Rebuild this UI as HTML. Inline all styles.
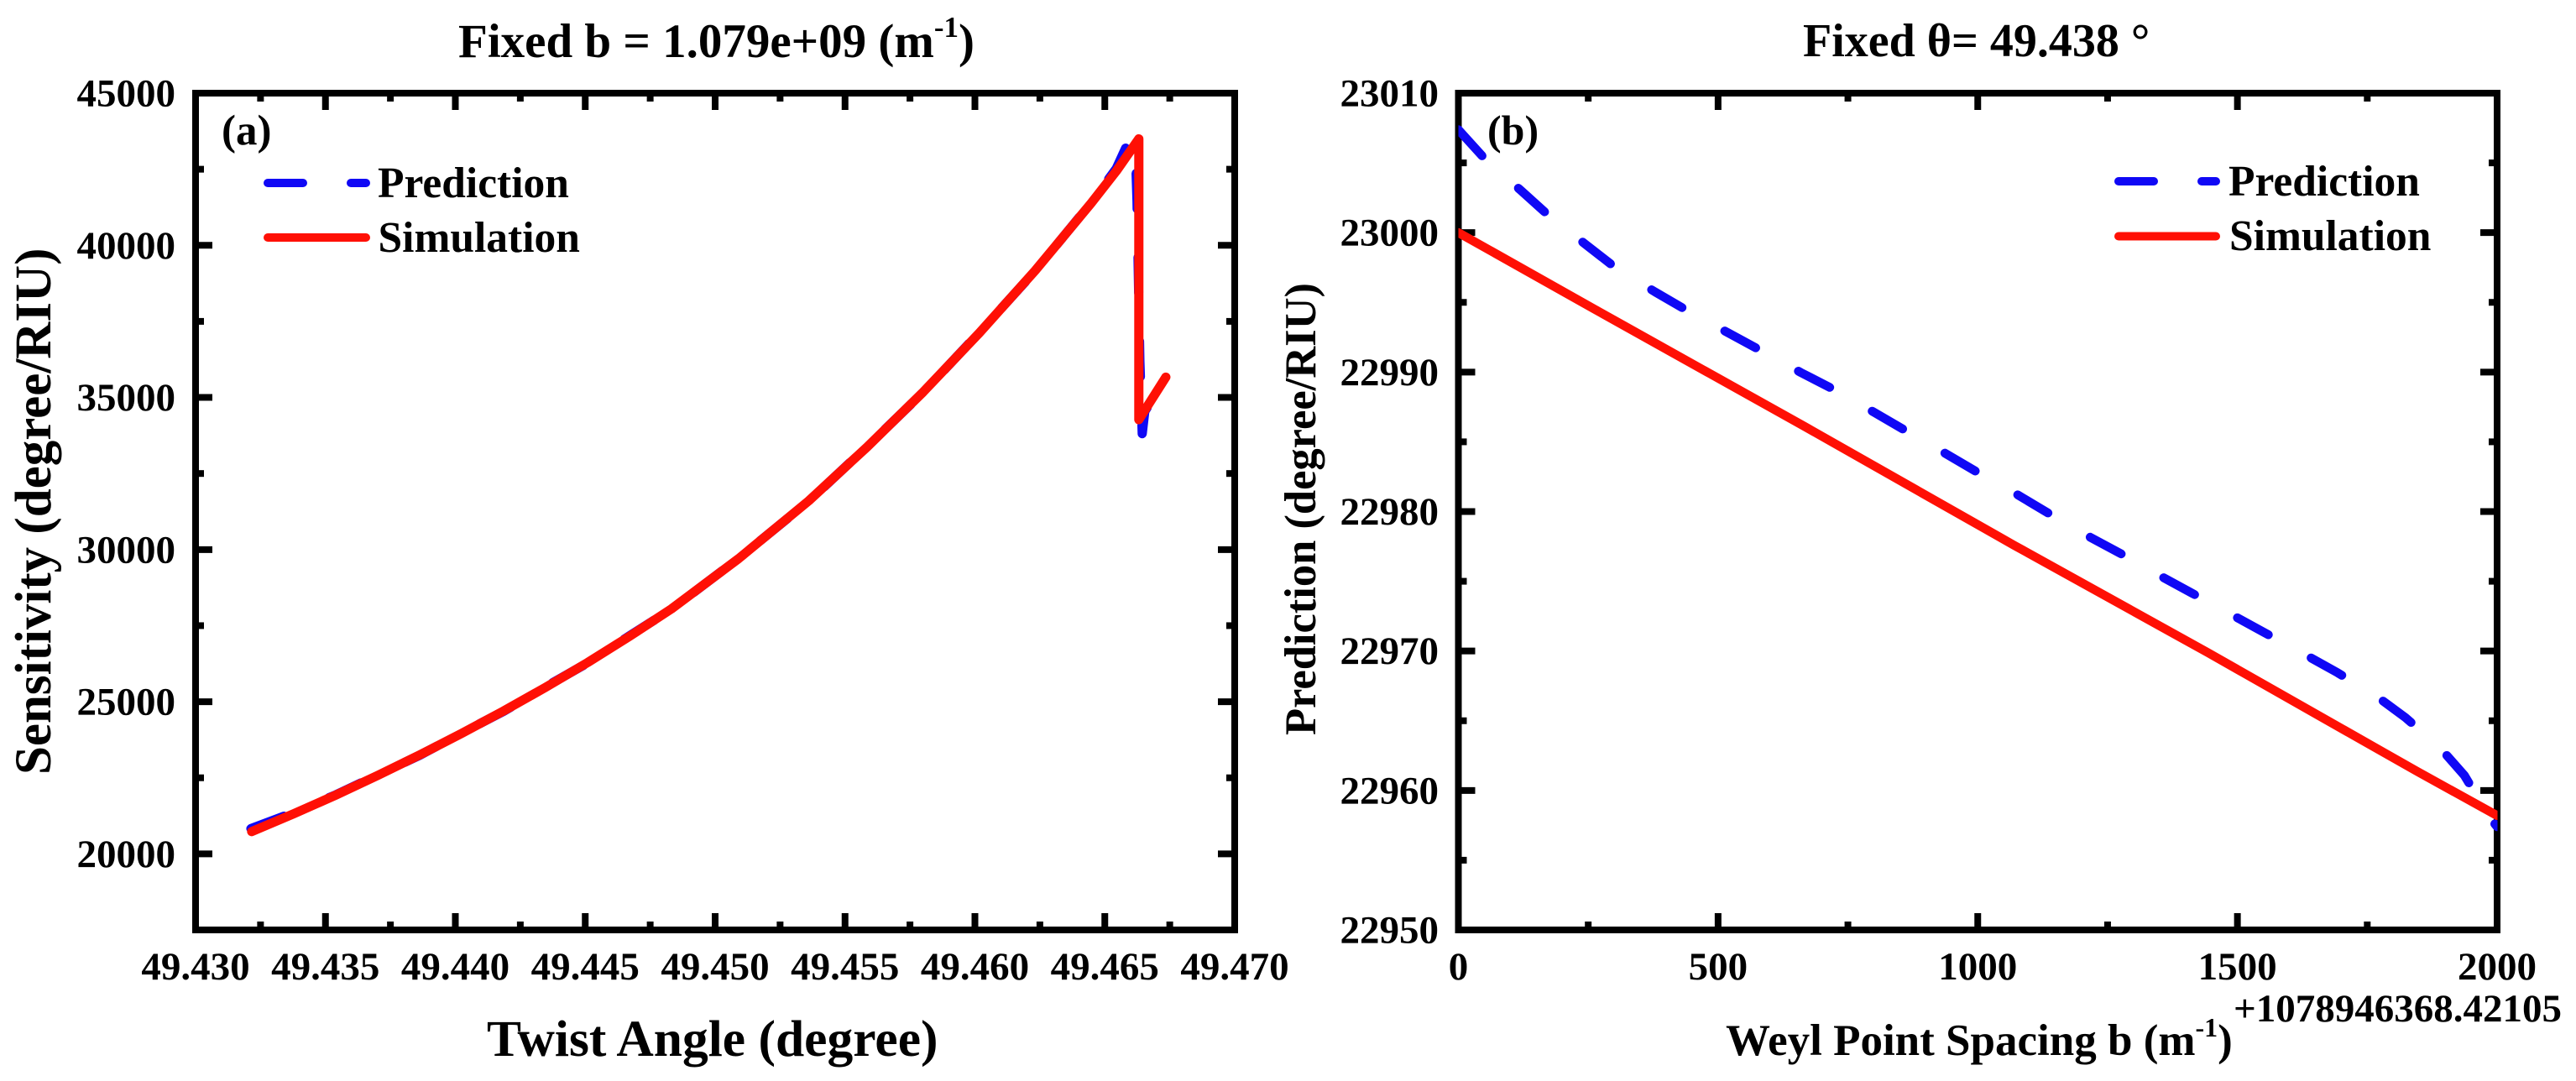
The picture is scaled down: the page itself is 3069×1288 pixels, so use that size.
<!DOCTYPE html>
<html lang="en">
<head>
<meta charset="utf-8">
<title>Sensitivity and Prediction charts</title>
<style>
html,body{margin:0;padding:0;background:#fff;}
svg{display:block;}
text{font-family:"Liberation Serif","Noto Serif CJK SC",serif;font-weight:bold;fill:#000;}
</style>
</head>
<body>
<svg id="fig" xmlns="http://www.w3.org/2000/svg" width="3069" height="1288" viewBox="0 0 3069 1288">
<rect x="0" y="0" width="3069" height="1288" fill="#fff"/>
<defs>
<clipPath id="clipA"><rect x="233" y="111" width="1238" height="997"/></clipPath>
<clipPath id="clipB"><rect x="1737.5" y="111" width="1238" height="997"/></clipPath>
</defs>

<text x="546" y="68" font-size="57">Fixed b = 1.079e+09 (m<tspan dy="-24" font-size="35">-1</tspan><tspan dy="24">)</tspan></text>
<text x="2148" y="67" font-size="56">Fixed θ= 49.438 °</text>

<text transform="translate(60,923) rotate(-90)" font-size="61">Sensitivity (degree/RIU)</text>
<text x="580" y="1258" font-size="61.5">Twist Angle (degree)</text>
<text transform="translate(1567,876) rotate(-90)" font-size="52.5">Prediction (degree/RIU)</text>
<text x="2056" y="1257" font-size="53">Weyl Point Spacing b (m<tspan dy="-22" font-size="32">-1</tspan><tspan dy="22">)</tspan></text>
<text x="2661" y="1217" font-size="47">+1078946368.42105</text>

<g id="axesA"></g>
<g id="axesB"></g>
<g id="seriesA" clip-path="url(#clipA)"></g>
<g id="seriesB" clip-path="url(#clipB)"></g>

<text x="264" y="172" font-size="51">(a)</text>
<text x="1772" y="172" font-size="50">(b)</text>

<g>
<line x1="319" y1="218" x2="436" y2="218" stroke="#1008f5" stroke-width="10" stroke-linecap="round" stroke-dasharray="42 57"/>
<text x="450" y="235" font-size="51.5">Prediction</text>
<line x1="319" y1="283" x2="436" y2="283" stroke="#ff1005" stroke-width="10" stroke-linecap="round"/>
<text x="450.5" y="300" font-size="51.5">Simulation</text>
</g>
<g>
<line x1="2524" y1="216" x2="2640" y2="216" stroke="#1008f5" stroke-width="10" stroke-linecap="round" stroke-dasharray="42 57"/>
<text x="2655" y="233" font-size="51.5">Prediction</text>
<line x1="2524" y1="281.5" x2="2640" y2="281.5" stroke="#ff1005" stroke-width="10" stroke-linecap="round"/>
<text x="2656" y="298" font-size="51.5">Simulation</text>
</g>
</svg>

<script>
// Panel (a) tick labels
const aXTickLabels = ['49.430','49.435','49.440','49.445','49.450','49.455','49.460','49.465','49.470'];
const aYTickLabels = ['20000','25000','30000','35000','40000','45000'];
// Panel (a) simulation series
const aSimX = [49.43216,49.43378,49.43540,49.43701,49.43863,49.44024,49.44186,49.44347,49.44509,49.44670,49.44832,49.45090,49.45360,49.45586,49.45801,49.46017,49.46232,49.46447,49.46544,49.46631,49.46631,49.46735];
const aSimY = [20732,21317,21932,22577,23252,23957,24697,25472,26287,27147,28052,29700,31600,33380,35180,37120,39170,41380,42437,43498,34269,35667];
// Panel (a) prediction series
const aPredX = [49.43213,49.43378,49.43540,49.43701,49.43863,49.44024,49.44186,49.44347,49.44509,49.44670,49.44832,49.45090,49.45360,49.45586,49.45801,49.46017,49.46232,49.46447,49.46544,49.46586,49.46616,49.46624,49.46635,49.46644,49.46654,49.46735];
const aPredY = [20830,21360,21940,22590,23240,23970,24685,25490,26275,27165,28040,29710,31585,33395,35165,37135,39155,41395,42520,43300,43510,41441,36200,33808,34545,35640];

// Panel (b) tick labels
const bXTickLabels = ['0','500','1000','1500','2000'];
const bYTickLabels = ['22950','22960','22970','22980','22990','23000','23010'];
// Panel (b) simulation series
const bSimX = [0,262.6,666.6,1070.6,1442.3,1846.3,2000];
const bSimY = [23000,22994.5,22986.1,22977.57,22969.9,22961.36,22958.2];
// Panel (b) prediction series
const bPredX = [0,46,120.4,170.5,246.5,300.6,379,437.2,519.6,578.9,659.7,719.5,799.2,856.9,936.6,996.4,1075,1132,1213,1273,1353.6,1412.9,1493.7,1552.4,1632.7,1693,1768.4,1823.4,1888.5,1937,1986.5,2000];
const bPredY = [23007.38,23005.49,23003.02,23001.34,22999.11,22997.54,22995.74,22994.48,22992.81,22991.61,22989.96,22988.82,22987.14,22985.89,22984.19,22982.88,22981.24,22979.97,22978.23,22977.03,22975.34,22974.14,22972.51,22971.31,22969.69,22968.44,22966.74,22965.23,22963.13,22961.08,22958.01,22957.4];

const NS = 'http://www.w3.org/2000/svg';
const RED = '#ff1005';
const BLUE = '#1008f5';

function linear(d0, d1, r0, r1) {
  return function (v) { return r0 + (v - d0) * (r1 - r0) / (d1 - d0); };
}

function tickLine(group, x1, y1, x2, y2) {
  const el = document.createElementNS(NS, 'line');
  el.setAttribute('x1', x1);
  el.setAttribute('y1', y1);
  el.setAttribute('x2', x2);
  el.setAttribute('y2', y2);
  el.setAttribute('stroke', '#000');
  el.setAttribute('stroke-width', '8');
  
  
  group.appendChild(el);
}

function tickText(group, str, x, y, anchor) {
  const el = document.createElementNS(NS, 'text');
  el.setAttribute('x', x);
  el.setAttribute('y', y);
  el.setAttribute('font-size', '47');
  el.setAttribute('text-anchor', anchor);
  el.textContent = str;
  
  
  group.appendChild(el);
}

function drawAxes(group, box, sx, sy, xLabels, yLabels, yLabelRight) {
  const xs = xLabels.map(Number);
  const ys = yLabels.map(Number);
  const L = 20, M = 10;
  xs.forEach(function (v, i) {
    const px = sx(v);
    tickLine(group, px, box.bottom, px, box.bottom - L);
    tickLine(group, px, box.top, px, box.top + L);
    tickText(group, xLabels[i], px, 1167, 'middle');
    if (i < xs.length - 1) {
      const m = sx((v + xs[i + 1]) / 2);
      tickLine(group, m, box.bottom, m, box.bottom - M);
      tickLine(group, m, box.top, m, box.top + M);
    }
  });
  ys.forEach(function (v, i) {
    const py = sy(v);
    tickLine(group, box.left, py, box.left + L, py);
    tickLine(group, box.right, py, box.right - L, py);
    tickText(group, yLabels[i], yLabelRight, py + 15.5, 'end');
    if (i < ys.length - 1) {
      const m = sy((v + ys[i + 1]) / 2);
      tickLine(group, box.left, m, box.left + M, m);
      tickLine(group, box.right, m, box.right - M, m);
    }
  });
  const frame = document.createElementNS(NS, 'rect');
  frame.setAttribute('x', box.left);
  frame.setAttribute('y', box.top);
  frame.setAttribute('width', box.right - box.left);
  frame.setAttribute('height', box.bottom - box.top);
  frame.setAttribute('fill', 'none');
  frame.setAttribute('stroke', '#000');
  frame.setAttribute('stroke-width', '8');
  
  
  group.appendChild(frame);
}

function drawSeries(group, xs, ys, sx, sy, color, dashed, name, width) {
  const d = xs.map(function (v, i) {
    return (i ? 'L' : 'M') + sx(v).toFixed(2) + ' ' + sy(ys[i]).toFixed(2);
  }).join(' ');
  const el = document.createElementNS(NS, 'path');
  el.setAttribute('d', d);
  el.setAttribute('fill', 'none');
  el.setAttribute('stroke', color);
  el.setAttribute('stroke-width', width);
  el.setAttribute('stroke-linecap', 'round');
  el.setAttribute('stroke-linejoin', 'round');
  if (dashed) {
    el.setAttribute('stroke-dasharray', '42 58');
  }
  
  
  group.appendChild(el);
}

const boxA = { left: 233, right: 1471, top: 111, bottom: 1108 };
const boxB = { left: 1737.5, right: 2975, top: 111, bottom: 1108 };
const sxA = linear(49.43, 49.47, boxA.left, boxA.right);
const syA = linear(17500, 45000, boxA.bottom, boxA.top);
const sxB = linear(0, 2000, boxB.left, boxB.right);
const syB = linear(22950, 23010, boxB.bottom, boxB.top);

drawAxes(document.getElementById('axesA'), boxA, sxA, syA, aXTickLabels, aYTickLabels, 209);
drawAxes(document.getElementById('axesB'), boxB, sxB, syB, bXTickLabels, bYTickLabels, 1714);

drawSeries(document.getElementById('seriesA'), aPredX, aPredY, sxA, syA, BLUE, true, 'prediction-line', 11);
drawSeries(document.getElementById('seriesA'), aSimX, aSimY, sxA, syA, RED, false, 'simulation-line', 11);
drawSeries(document.getElementById('seriesB'), bPredX, bPredY, sxB, syB, BLUE, true, 'prediction-line', 10.5);
drawSeries(document.getElementById('seriesB'), bSimX, bSimY, sxB, syB, RED, false, 'simulation-line', 10.5);
</script>
</body>
</html>
